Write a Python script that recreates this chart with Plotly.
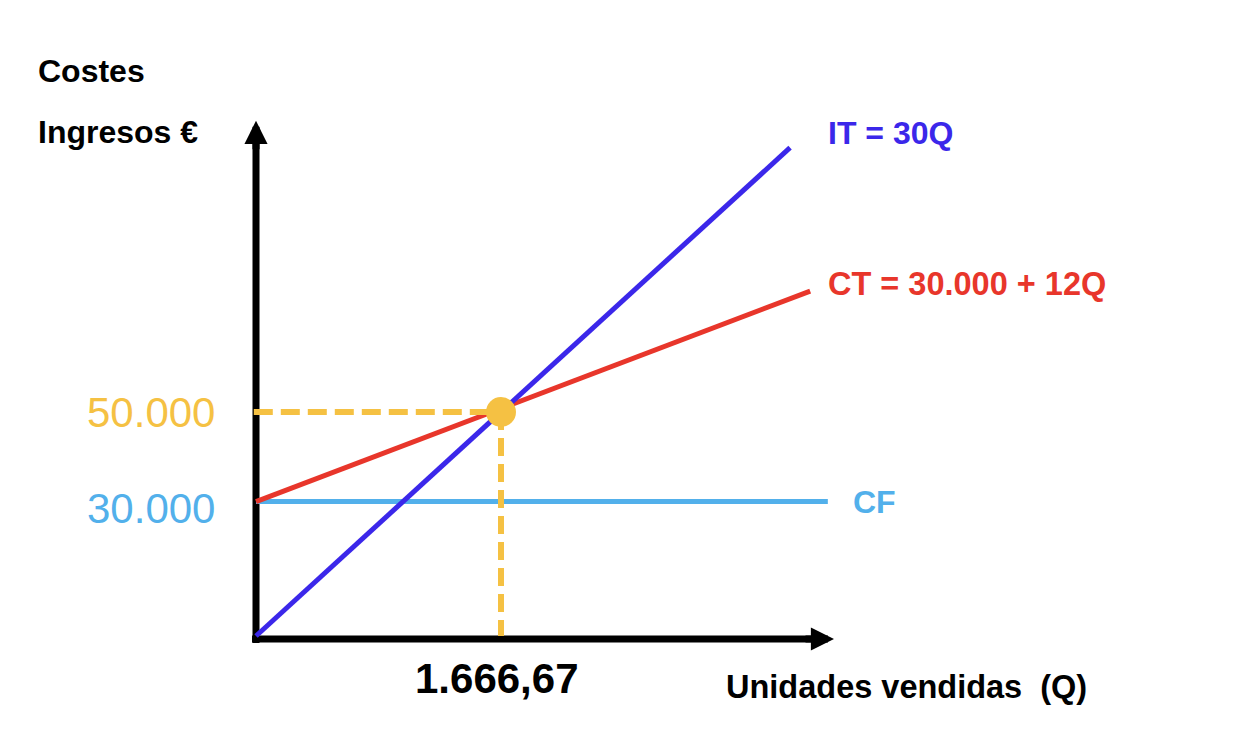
import plotly.graph_objects as go

# ---- data ----
it_q = [0, 3633]          # IT = 30Q
it_v = [0, 109000]
ct_q = [0, 3770]          # CT = 30.000 + 12Q
ct_v = [30000, 77000]
cf_q = [0, 3890]          # CF
cf_v = [30000, 30000]
be_q = 1666.67            # break-even quantity
be_v = 50000              # break-even revenue / cost

labels = {
    "it": "IT = 30Q",
    "ct": "CT = 30.000 + 12Q",
    "cf": "CF",
    "ylab1": "Costes",
    "ylab2": "Ingresos €",
    "xlab": "Unidades vendidas\u00a0\u00a0(Q)",
}

# ---- styling ----
BLUE = "#3b27ea"
RED = "#e8362b"
LBLUE = "#52b0eb"
YELLOW = "#f5c143"
FONT = "Liberation Sans, Arial, Helvetica, sans-serif"

X_RANGE = [-1741.5, 6748.3]
Y_RANGE = [-23214, 141964]
Y_AXIS_TOP = 115000
Y_AXIS_BOTTOM = -1560
X_AXIS_END = 3932
X_AXIS_START = -27
AXIS_Y = -670


def es_int(v):
    return f"{v:,.0f}".replace(",", ".")


def es_dec(v):
    s = f"{v:,.2f}"
    return s.replace(",", "_").replace(".", ",").replace("_", ".")


fig = go.Figure()

# axes (drawn as black lines)
fig.add_trace(go.Scatter(x=[0, 0], y=[Y_AXIS_BOTTOM, Y_AXIS_TOP - 3000], mode="lines",
                         line=dict(color="black", width=7), hoverinfo="skip"))
fig.add_trace(go.Scatter(x=[X_AXIS_START, X_AXIS_END - 80], y=[AXIS_Y, AXIS_Y], mode="lines",
                         line=dict(color="black", width=7), hoverinfo="skip"))

# series
fig.add_trace(go.Scatter(x=cf_q, y=cf_v, mode="lines", line=dict(color=LBLUE, width=5)))
fig.add_trace(go.Scatter(x=ct_q, y=ct_v, mode="lines", line=dict(color=RED, width=5)))
fig.add_trace(go.Scatter(x=it_q, y=it_v, mode="lines", line=dict(color=BLUE, width=5)))

# dashed guides to break-even
fig.add_trace(go.Scatter(x=[-15, be_q], y=[be_v, be_v], mode="lines",
                         line=dict(color=YELLOW, width=6, dash="19px,8px")))
fig.add_trace(go.Scatter(x=[be_q, be_q], y=[be_v, 0], mode="lines",
                         line=dict(color=YELLOW, width=6, dash="18px,8px")))
fig.add_trace(go.Scatter(x=[be_q], y=[be_v], mode="markers",
                         marker=dict(color=YELLOW, size=30, line=dict(width=0))))

ann = []
# arrow heads
ann.append(dict(x=0, y=Y_AXIS_TOP, xref="x", yref="y", ax=0, ay=30, text="",
                showarrow=True, arrowhead=2, arrowsize=0.66, arrowwidth=7, arrowcolor="black"))
ann.append(dict(x=X_AXIS_END, y=AXIS_Y, xref="x", yref="y", ax=-30, ay=0, text="",
                showarrow=True, arrowhead=2, arrowsize=0.66, arrowwidth=7, arrowcolor="black"))

# line labels
ann.append(dict(x=it_q[-1], y=it_v[-1], xref="x", yref="y", text=f"<b>{labels['it']}</b>",
                showarrow=False, xanchor="left", yanchor="middle", xshift=36, yshift=15,
                font=dict(family=FONT, size=32, color=BLUE)))
ann.append(dict(x=ct_q[-1], y=ct_v[-1], xref="x", yref="y", text=f"<b>{labels['ct']}</b>",
                showarrow=False, xanchor="left", yanchor="middle", xshift=16, yshift=7,
                font=dict(family=FONT, size=32.5, color=RED)))
ann.append(dict(x=cf_q[-1], y=cf_v[-1], xref="x", yref="y", text=f"<b>{labels['cf']}</b>",
                showarrow=False, xanchor="left", yanchor="middle", xshift=23, yshift=0,
                font=dict(family=FONT, size=32, color=LBLUE)))

# value labels
ann.append(dict(x=0, y=be_v, xref="x", yref="y", text=es_int(be_v), showarrow=False,
                xanchor="right", yanchor="middle", xshift=-39, yshift=0,
                font=dict(family=FONT, size=42, color=YELLOW)))
ann.append(dict(x=0, y=cf_v[0], xref="x", yref="y", text=es_int(cf_v[0]), showarrow=False,
                xanchor="right", yanchor="middle", xshift=-39, yshift=-7,
                font=dict(family=FONT, size=42, color=LBLUE)))
ann.append(dict(x=be_q, y=0, xref="x", yref="y", text=f"<b>{es_dec(be_q)}</b>", showarrow=False,
                xanchor="center", yanchor="middle", xshift=-4, yshift=-42,
                font=dict(family=FONT, size=42, color="black")))

# axis titles
ann.append(dict(x=36 / 1248, y=1 - 71 / 740, xref="paper", yref="paper",
                text=f"<b>{labels['ylab1']}</b>", showarrow=False, xanchor="left", yanchor="middle",
                font=dict(family=FONT, size=32, color="black")))
ann.append(dict(x=36 / 1248, y=1 - 132 / 740, xref="paper", yref="paper",
                text=f"<b>{labels['ylab2']}</b>", showarrow=False, xanchor="left", yanchor="middle",
                font=dict(family=FONT, size=32, color="black")))
ann.append(dict(x=724 / 1248, y=1 - 687 / 740, xref="paper", yref="paper",
                text=f"<b>{labels['xlab']}</b>", showarrow=False, xanchor="left", yanchor="middle",
                font=dict(family=FONT, size=32.5, color="black")))

fig.update_layout(
    width=1248, height=740,
    margin=dict(l=0, r=0, t=0, b=0),
    paper_bgcolor="white", plot_bgcolor="white",
    showlegend=False, hovermode=False,
    xaxis=dict(range=X_RANGE, visible=False, fixedrange=True),
    yaxis=dict(range=Y_RANGE, visible=False, fixedrange=True),
    annotations=ann,
)

fig.write_html("out.html", config={"displayModeBar": False},
               post_script="document.body.style.margin='0px';")
